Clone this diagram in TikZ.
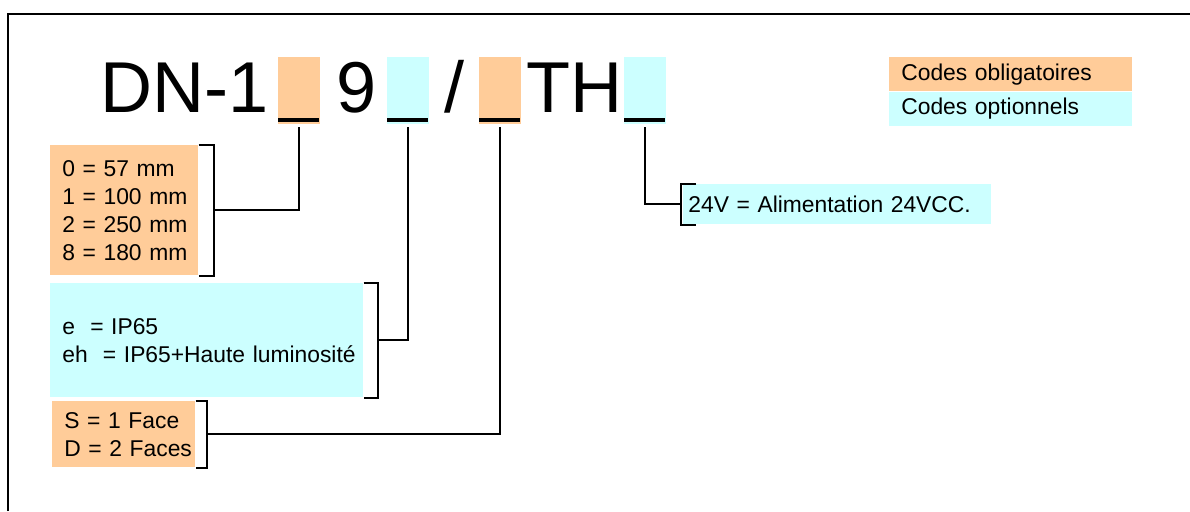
\documentclass[tikz,border=0pt]{standalone}
\usepackage{fontspec}
\setmainfont{Liberation Sans}
\usetikzlibrary{positioning,calc}
\definecolor{cOblig}{RGB}{255,204,153}
\definecolor{cOption}{RGB}{204,255,255}

\begin{document}
\begin{tikzpicture}[
  x=0.02cm, y=-0.02cm,
  big/.style={anchor=base west, inner sep=0pt, font=\fontsize{41}{41}\selectfont},
  hbox/.style={anchor=north west, inner sep=0pt,
    minimum width=0.83cm, minimum height=1.34cm},
  lbox/.style={anchor=north west, inner sep=0pt, align=left,
    font=\fontsize{13}{16}\selectfont},
  lpad/.style={execute at begin node={\leftskip=#1}},
  legbox/.style={lbox, lpad=0.24cm, text width=4.86cm, minimum height=0.68cm},
  conn/.style={line width=1.1pt},
  brk/.style={line width=1.1pt},
  frame/.style={line width=1.1pt}
]
\useasboundingbox (0,0) rectangle (1190,511);

% Frame
\draw[frame] (8,511) -- (8,14) -- (1190,14);

% Code
\node[big] (tDN) at (100,112) {DN-1};
\node[hbox, fill=cOblig]  (hA) at (278,57) {};
\node[big] (t9) at (336,112) {9};
\node[hbox, fill=cOption] (hB) at (387,57) {};
\node[big] (tSl) at (444,112) {/};
\node[hbox, fill=cOblig]  (hC) at (479,57) {};
\node[big] (tTH) at (526,112) {TH};
\node[hbox, fill=cOption] (hD) at (624,57) {};
\foreach \h in {hA,hB,hC,hD}
  \fill ($(\h.south west)+(0,-3)$) rectangle ($(\h.south east)+(-1,-7)$);

% Options
\node[lbox, lpad=0.24cm, fill=cOblig, text width=2.96cm, minimum height=2.6cm]
  (lA) at (50,145) {0 = 57 mm\\1 = 100 mm\\2 = 250 mm\\8 = 180 mm};
\node[lbox, lpad=0.24cm, fill=cOption, text width=6.26cm, minimum height=2.28cm]
  (lB) at (50,283) {e~~= IP65\\eh~~= IP65+Haute luminosité};
\node[lbox, lpad=0.24cm, fill=cOblig, text width=2.86cm, minimum height=1.32cm]
  (lC) at (52,401) {S = 1 Face\\D = 2 Faces};
\node[lbox, lpad=0.1cm, fill=cOption, text width=6.16cm, minimum height=0.8cm]
  (lD) at (683,184) {24V = Alimentation 24VCC.};

% Brackets
\draw[brk] (lA.north east) -| ($(lA.south east)+(15,0)$) -- (lA.south east);
\draw[brk] (lB.north east) -| ($(lB.south east)+(14,0)$) -- (lB.south east);
\draw[brk] (lC.north east) -| ($(lC.south east)+(11,0)$) -- (lC.south east);
\draw[brk] ($(lD.north west)+(13,0)$) -- ++(-15,0) |- ($(lD.south west)+(13,0)$);
\coordinate (kA) at ($(lA.east)+(15,0)$);
\coordinate (kB) at ($(lB.east)+(14,0)$);
\coordinate (kC) at ($(lC.east)+(11,0)$);
\coordinate (kD) at ($(lD.west)+(-2,0)$);

% Connectors
\draw[conn] ([yshift=-0.05cm]hA.south) |- (kA);
\draw[conn] ([yshift=-0.05cm]hB.south) |- (kB);
\draw[conn] ([yshift=-0.05cm]hC.south) |- (kC);
\draw[conn] ([yshift=-0.05cm]hD.south) |- (kD);

% Legend
\node[legbox, fill=cOblig] (leg1) at (889,57) {Codes obligatoires};
\node[legbox, fill=cOption, below=0pt of leg1] (leg2) {Codes optionnels};

\end{tikzpicture}
\end{document}
